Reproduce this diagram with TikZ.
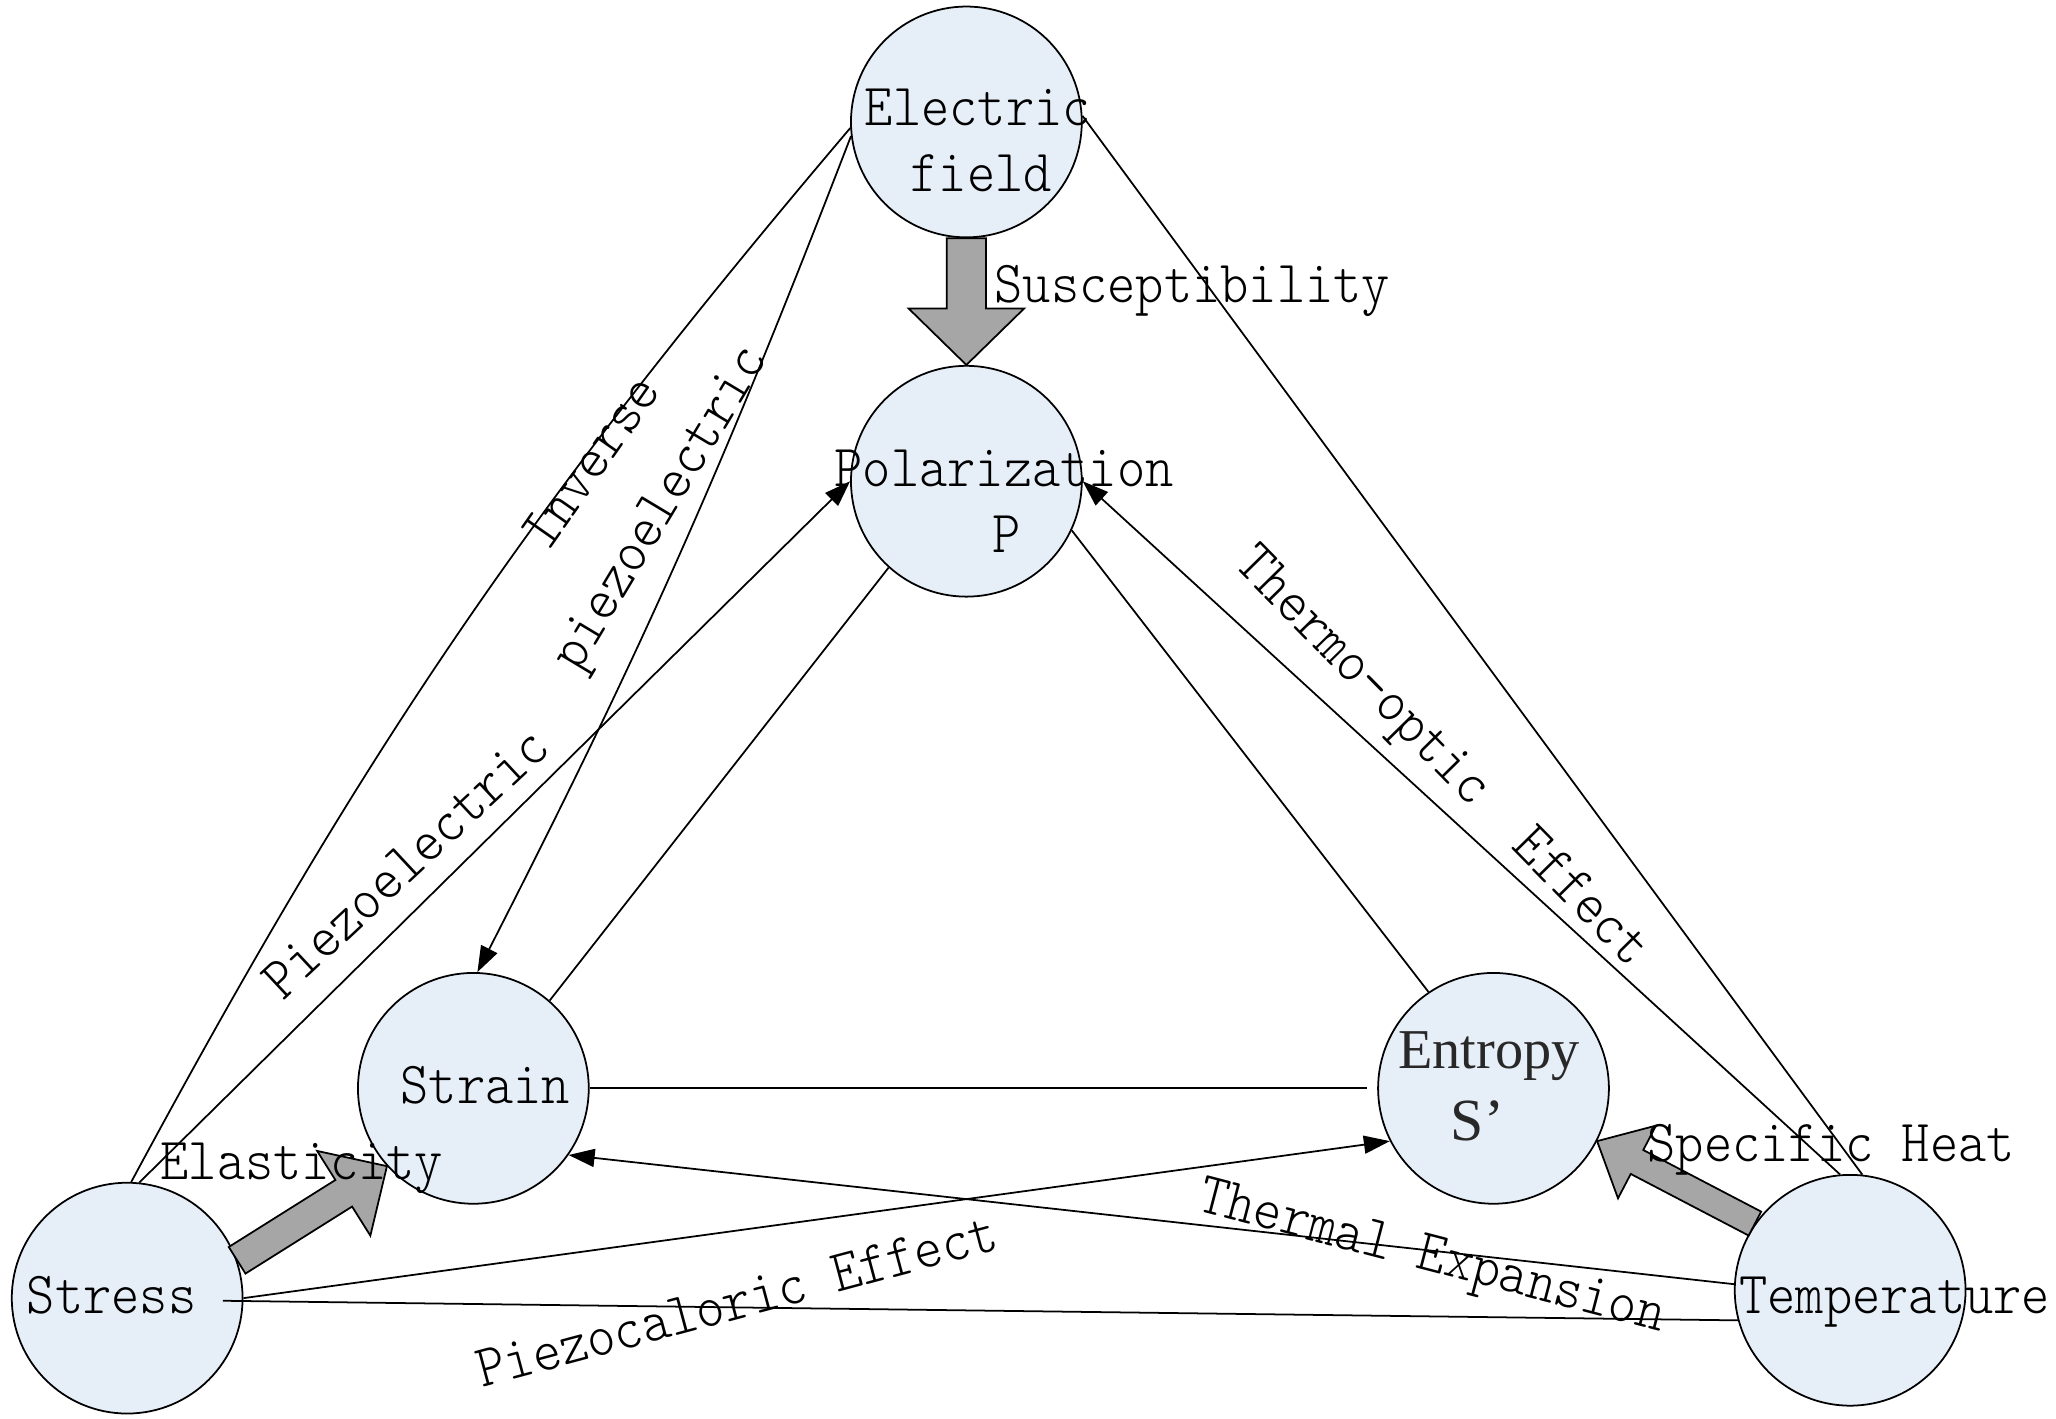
\documentclass[tikz,border=0pt]{standalone}
\usepackage{fontspec}
\setmainfont{Liberation Serif}
\setmonofont{Latin Modern Mono Light}[FakeStretch=0.9]
\usetikzlibrary{arrows.meta,calc}
\definecolor{nodefill}{RGB}{230,238,248}
\definecolor{arrowgray}{RGB}{166,166,166}
\definecolor{darktext}{RGB}{40,40,40}
\tikzset{
  quantity/.style={circle,draw=black,line width=0.5pt,fill=nodefill,minimum size=2.307cm,inner sep=0pt},
  lbl/.style={font=\ttfamily\fontsize{17}{20}\selectfont,inner sep=0pt},
  serifl/.style={font=\rmfamily\fontsize{16}{19}\selectfont,text=darktext,inner sep=0pt},
  link/.style={line width=0.5pt},
  arr/.style={link,-{Triangle[length=0.26cm,width=0.18cm]}},
  fat/.style={fill=arrowgray,draw=black,line width=0.5pt,line join=miter},
}
% start, end, half shaft width, half head width, head length
\newcommand{\fatarrowpath}[5]{%
  \coordinate (ba-h) at ($(#2)!#5!(#1)$);
  \filldraw[fat]
    ($(#1)!#3!90:(#2)$) -- ($(ba-h)!#3!-90:(#1)$) -- ($(ba-h)!#4!-90:(#1)$) -- (#2)
    -- ($(ba-h)!#4!90:(#1)$) -- ($(ba-h)!#3!90:(#1)$) -- ($(#1)!#3!-90:(#2)$) -- cycle;
}
\begin{document}
\begin{tikzpicture}[x=0.01311cm,y=-0.01311cm]
\useasboundingbox (0,0) rectangle (1568,1082);
% quantities
\node[quantity] (EF) at (737,93) {};
\node[quantity] (P)  at (737,367) {};
\node[quantity] (Sn) at (361,830) {};
\node[quantity] (En) at (1139,830) {};
\node[quantity] (St) at (97,990) {};
\node[quantity] (T)  at (1411,984) {};
% thin connectors
\draw[link] (St.88) to[bend left=6] (EF.183);
\draw[arr] (EF.187) to[bend left=3] (Sn.88);
\draw[arr] (St.84) -- (P.180);
\draw[link] (P.228) -- (Sn.49);
\draw[link] (P.-25) -- (En.124);
\draw[link,shorten >=0.105cm] (Sn.east) -- (En.west);
\draw[link] (EF.3) -- (T.84);
\draw[arr] (T.95) -- (P.0);
\draw[arr] (St.east) -- (En.207);
\draw[arr] (T.177) -- (Sn.-35);
\coordinate (stin) at ($(St.center)+(73,2)$);
\draw[link] (stin) -- (T.195);
% block arrows
\fatarrowpath{EF.south}{P.north}{0.197cm}{0.577cm}{0.564cm}
\fatarrowpath{St.19}{Sn.222}{0.157cm}{0.50cm}{0.51cm}
\fatarrowpath{T.145}{En.-27}{0.135cm}{0.41cm}{0.45cm}
% texts
\node[lbl,anchor=base west] (tEl) at (659,96) {Electric};
\node[lbl,anchor=base west] (tFi) at (694,146) {field};
\node[lbl,anchor=base west] (tSu) at (758,230.5) {Susceptibility};
\node[lbl,anchor=base west] (tPo) at (636,371) {Polarization};
\node[lbl,anchor=base west] (tPP) at (756,421.5) {P};
\node[lbl,anchor=base west] (tSn) at (305,841.5) {Strain};
\node[serifl,anchor=base west] (tEn) at (1066,815) {Entropy};
\node[serifl,anchor=base west,font=\rmfamily\fontsize{17}{20}\selectfont] (tS) at (1106,870) {S’};
\node[lbl,anchor=base west] (tSt) at (20,1001.5) {Stress};
\node[lbl,anchor=base west] (tTe) at (1326,1001.6) {Temperature};
\node[lbl,anchor=base west] (tEa) at (122,899.5) {Elasticity};
\node[lbl,anchor=base west] (tSh) at (1256,885.6) {Specific Heat};
\node[lbl,rotate=55] (tIn) at (450,352) {Inverse};
\node[lbl,rotate=59] (tpi) at (506,389) {piezoelectric};
\node[lbl,rotate=43] (tPi) at (309,658) {Piezoelectric};
\node[lbl,rotate=-45.5] (tTo) at (1098,579) {Thermo-optic\ \ Effect};
\node[lbl,rotate=15] (tPc) at (562,992) {Piezocaloric Effect};
\node[lbl,rotate=-14.6] (tTx) at (1091.5,961) {Thermal Expansion};
\end{tikzpicture}
\end{document}
